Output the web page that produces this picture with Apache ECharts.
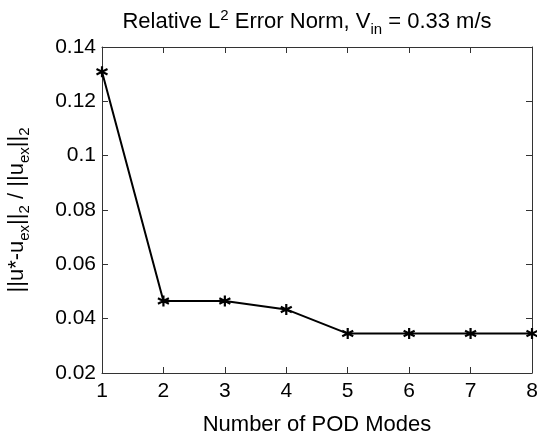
<!DOCTYPE html>
<html>
<head>
<meta charset="utf-8">
<script src="https://cdn.jsdelivr.net/npm/echarts@6/dist/echarts.min.js"></script>
<style>
html, body { margin: 0; padding: 0; background: #fff; }
#chart { width: 537px; height: 433px; }
</style>
</head>
<body>
<div id="chart"></div>
<script>
// number of POD modes and the relative error
var modes = [1, 2, 3, 4, 5, 6, 7, 8];
var errors = [0.1309, 0.0465, 0.0465, 0.0434, 0.0345, 0.0345, 0.0345, 0.0345];
var yTicks = { min: 0.02, max: 0.14, step: 0.02 };

var font = 'Liberation Sans, Arial, sans-serif';
var star = 'path://M0,-5L0,5M-4.33,-2.5L4.33,2.5M-4.33,2.5L4.33,-2.5';

var myChart = echarts.init(document.getElementById('chart'));
var axisCol = '#333';

var option = {
    backgroundColor: '#fff',
    animation: false,
    title: {
        text: '{n|Relative L}{sup|2}{n| Error Norm, V}{sub|in}{n| = 0.33 m/s}',
        left: 302,
        textAlign: 'center',
        top: 2,
        textStyle: {
            fontWeight: 'normal',
            rich: {
                n: { fontFamily: font, fontSize: 22, color: '#000' },
                sup: { fontFamily: font, fontSize: 15, color: '#000', padding: [0, 0, 13, 0] },
                sub: { fontFamily: font, fontSize: 15, color: '#000', padding: [15, 0, 0, 0] }
            }
        }
    },
    grid: { left: 102, right: 5, top: 47, bottom: 60, outerBoundsMode: 'none', containLabel: false },
    xAxis: [
        {
            type: 'value', min: 1, max: 8, interval: 1,
            name: 'Number of POD Modes', nameLocation: 'middle', nameGap: 41,
            nameTextStyle: { fontFamily: font, fontSize: 22, color: '#000' },
            axisLine: { lineStyle: { color: axisCol } },
            axisTick: { inside: true, length: 6, lineStyle: { color: axisCol } },
            axisLabel: { fontFamily: font, fontSize: 21, color: '#000', margin: 8 },
            splitLine: { show: false }
        },
        {
            type: 'value', min: 1, max: 8, interval: 1, position: 'top',
            axisLine: { lineStyle: { color: axisCol } },
            axisTick: { inside: true, length: 6, lineStyle: { color: axisCol } },
            axisLabel: { show: false },
            splitLine: { show: false }
        }
    ],
    yAxis: [
        {
            type: 'value', min: yTicks.min, max: yTicks.max, interval: yTicks.step,
            name: '{n|||u*-u}{sub|ex}{n|||}{sub|2}{n| / ||u}{sub|ex}{n|||}{sub|2}',
            nameLocation: 'middle', nameGap: 70,
            nameTextStyle: {
                rich: {
                    n: { fontFamily: font, fontSize: 22, color: '#000' },
                    sub: { fontFamily: font, fontSize: 15, color: '#000', padding: [15, 0, 0, 0] }
                }
            },
            axisLine: { lineStyle: { color: axisCol } },
            axisTick: { inside: true, length: 6, lineStyle: { color: axisCol } },
            axisLabel: { fontFamily: font, fontSize: 21, color: '#000', margin: 6 },
            splitLine: { show: false }
        },
        {
            type: 'value', min: yTicks.min, max: yTicks.max, interval: yTicks.step, position: 'right',
            axisLine: { show: true, lineStyle: { color: axisCol } },
            axisTick: { show: true, inside: true, length: 6, lineStyle: { color: axisCol } },
            axisLabel: { show: false },
            splitLine: { show: false }
        }
    ],
    series: [
        {
            type: 'line',
            data: modes.map(function (m, i) { return [m, errors[i]]; }),
            clip: false,
            symbol: star,
            symbolSize: 11,
            lineStyle: { color: '#000', width: 2 },
            itemStyle: { color: '#000', borderColor: '#000', borderWidth: 2.2 }
        }
    ]
};

myChart.setOption(option);
window.addEventListener('resize', function () { myChart.resize(); });
</script>
</body>
</html>
